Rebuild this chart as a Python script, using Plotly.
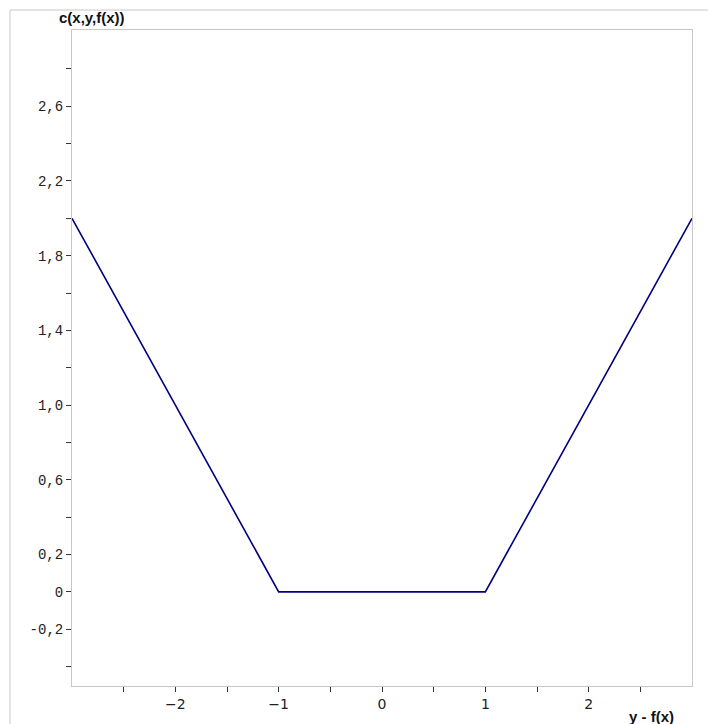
import plotly.graph_objects as go

# data: epsilon-insensitive loss
x_vals = [-3, -1, 1, 3]
y_vals = [2, 0, 0, 2]

y_tickvals = [-0.4, -0.2, 0, 0.2, 0.4, 0.6, 0.8, 1.0, 1.2, 1.4, 1.6, 1.8, 2.0, 2.2, 2.4, 2.6, 2.8]
y_ticktext = ["", "-0,2", "0", "0,2", "", "0,6", "", "1,0", "", "1,4", "", "1,8", "", "2,2", "", "2,6", ""]
x_tickvals = [-2.5, -2, -1.5, -1, -0.5, 0, 0.5, 1, 1.5, 2, 2.5]
x_ticktext = ["", "\u22122", "", "\u22121", "", "0", "", "1", "", "2", ""]

OFF = 8  # page body margin
W, H = 716 - OFF, 724 - OFF
L, R, T, B = 72 - OFF, 692 - OFF, 30 - OFF, 686 - OFF

def px(xp):
    return (xp - OFF - L) / (R - L)

def py(yp):
    return (B - (yp - OFF)) / (B - T)

fig = go.Figure()
fig.add_trace(go.Scatter(x=x_vals, y=y_vals, mode="lines",
                         line=dict(color="#000080", width=1.6), hoverinfo="skip"))

fig.update_layout(
    width=W, height=H,
    margin=dict(l=L, r=W - R, t=T, b=H - B),
    paper_bgcolor="white", plot_bgcolor="white",
    showlegend=False,
    xaxis=dict(range=[-3, 3], tickvals=x_tickvals, ticktext=x_ticktext,
               showgrid=False, zeroline=False, showline=True, linecolor="#c8c8c8",
               mirror=True, ticks="outside", ticklen=5, tickcolor="#333333", tickwidth=1,
               tickfont=dict(family="DejaVu Sans", size=14, color="#222222")),
    yaxis=dict(range=[-0.504, 3.008], tickvals=y_tickvals, ticktext=y_ticktext,
               showgrid=False, zeroline=False, showline=True, linecolor="#c8c8c8",
               mirror=True, ticks="outside", ticklen=5, tickcolor="#333333", tickwidth=1,
               tickfont=dict(family="Liberation Mono", size=14, color="#222222")),
    annotations=[
        dict(text="<b>c(x,y,f(x))</b>", xref="paper", yref="paper", x=px(57), y=py(18),
             xanchor="left", yanchor="middle", showarrow=False,
             font=dict(family="Liberation Sans", size=15, color="#111111")),
        dict(text="<b>y - f(x)</b>", xref="paper", yref="paper", x=px(627), y=py(716),
             xanchor="left", yanchor="middle", showarrow=False,
             font=dict(family="Liberation Sans", size=15, color="#111111")),
    ],
    shapes=[
        dict(type="line", xref="paper", yref="paper", x0=px(10), x1=px(730), y0=py(10), y1=py(10),
             line=dict(color="#c8c8c8", width=1)),
        dict(type="line", xref="paper", yref="paper", x0=px(10), x1=px(10), y0=py(10), y1=py(740),
             line=dict(color="#c8c8c8", width=1)),
    ],
)

fig.write_html("out.html")
